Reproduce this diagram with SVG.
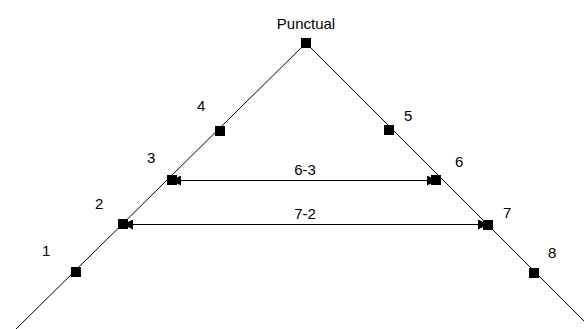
<svg xmlns="http://www.w3.org/2000/svg" width="584" height="329" viewBox="0 0 584 329">
<style>
.ln{stroke:#000;stroke-width:1;fill:none}
.sq{fill:#000}
.t{font-family:"Liberation Sans",Arial,sans-serif;font-size:15px;fill:#000}
.m{text-anchor:middle}
</style>
<defs>
<marker id="ah" viewBox="0 0 10 10" refX="9" refY="5" markerWidth="11" markerHeight="10" markerUnits="userSpaceOnUse" orient="auto-start-reverse">
<path d="M0,0 L10,5 L0,10 Z" fill="#000"/>
</marker>
</defs>
<rect width="584" height="329" fill="#fff"/>
<g id="connectors">
<line class="ln" x1="306" y1="43" x2="16" y2="329"/>
<line class="ln" x1="306" y1="43" x2="592" y2="329"/>
<line class="ln" x1="172" y1="180.5" x2="436" y2="180.5" marker-start="url(#ah)" marker-end="url(#ah)"/>
<line class="ln" x1="124" y1="224.5" x2="487" y2="224.5" marker-start="url(#ah)" marker-end="url(#ah)"/>
</g>
<g id="punctual"><rect class="sq" x="301" y="38" width="10" height="10"/><text class="t m" x="306" y="29">Punctual</text></g>
<g id="p1"><rect class="sq" x="71" y="267" width="10" height="10"/><text class="t" x="42" y="256">1</text></g>
<g id="p2"><rect class="sq" x="118" y="219" width="10" height="10"/><text class="t" x="95" y="209">2</text></g>
<g id="p3"><rect class="sq" x="167" y="175" width="10" height="10"/><text class="t" x="147" y="163">3</text></g>
<g id="p4"><rect class="sq" x="215" y="126" width="10" height="10"/><text class="t" x="197" y="111">4</text></g>
<g id="p5"><rect class="sq" x="384" y="125" width="10" height="10"/><text class="t" x="404" y="121">5</text></g>
<g id="p6"><rect class="sq" x="431" y="175" width="10" height="10"/><text class="t" x="455" y="167">6</text></g>
<g id="p7"><rect class="sq" x="483" y="220" width="10" height="10"/><text class="t" x="503" y="218">7</text></g>
<g id="p8"><rect class="sq" x="529" y="268" width="10" height="10"/><text class="t" x="548" y="258">8</text></g>
<g id="l63"><text class="t m" x="305" y="175">6-3</text></g>
<g id="l72"><text class="t m" x="305" y="219">7-2</text></g>
</svg>
